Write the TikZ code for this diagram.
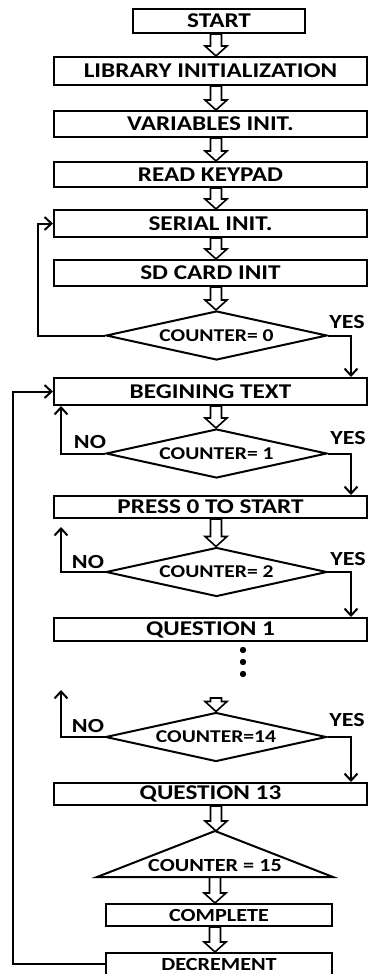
\documentclass[tikz,border=0pt]{standalone}
\usepackage{fontspec}
\setmainfont{Carlito}[FakeStretch=1.2]
\usetikzlibrary{shapes,arrows.meta,calc}
\tikzstyle{block} =
        [
                rectangle,
                draw,
                line width = 2pt,
                font = \bfseries\fontsize{21}{21}\selectfont,
                text centered,
                inner sep = 0pt,
                minimum height = 26pt
        ]
\tikzstyle{wide} =
        [
                block,
                minimum width = 313pt
        ]
\tikzstyle{short} =
        [
                block,
                minimum width = 226pt,
                minimum height = 22pt,
                font = \bfseries\fontsize{18.5}{18.5}\selectfont
        ]
\tikzstyle{decision} =
        [
                diamond,
                draw,
                line width = 2pt,
                inner sep = 0pt,
                aspect = 4.5,
                minimum width = 221pt,
                minimum height = 49pt,
                font = \bfseries\fontsize{18}{18}\selectfont
        ]
\tikzstyle{answer} =
        [
                inner sep = 0pt,
                font = \bfseries\fontsize{20}{20}\selectfont
        ]
\tikzstyle{line} =
        [
                draw,
                line width = 2pt,
                -{Straight Barb[length=7pt,width=13pt]}
        ]
\tikzstyle{fat} =
        [
                draw,
                line width = 1.6pt,
                to path = {let \p1 = (\tikztostart), \p2 = (\tikztotarget) in
                        (\x1-5.5pt,\y1) -- (\x1-5.5pt,\y2+10pt) -- (\x1-11pt,\y2+10pt)
                        -- (\x1,\y2) -- (\x1+11pt,\y2+10pt) -- (\x1+5.5pt,\y2+10pt)
                        -- (\x1+5.5pt,\y1) -- cycle}
        ]
\begin{document}
\begin{tikzpicture}[x=1pt,y=-1pt]
    \useasboundingbox (0,0) rectangle (369,974);
    \coordinate (axis) at (216,0);
    \coordinate (yesx) at (351,0);
    \coordinate (nox) at (61,0);
    \coordinate (loopx) at (38,0);
    \coordinate (outx) at (13,0);
    \node [block, minimum width = 172pt, minimum height = 24pt] (start) at (219,21) {START};
    \node [wide, minimum height = 28pt] (lib) at (210.5,71) {LIBRARY INITIALIZATION};
    \node [wide] (var) at (210.5,124) {VARIABLES INIT.};
    \node [wide, minimum height = 25pt] (keypad) at (210.5,174.5) {READ KEYPAD};
    \node [wide, minimum height = 27pt] (serial) at (210.5,223.5) {SERIAL INIT.};
    \node [wide] (sdcard) at (210.5,273) {SD CARD INIT};
    \node [decision] (cnt0) at (216.5,335.5) {COUNTER= 0};
    \node [wide, minimum height = 27pt] (begin) at (210.5,391.5) {BEGINING TEXT};
    \node [decision] (cnt1) at (216.5,453.5) {COUNTER= 1};
    \node [wide, minimum height = 22pt] (press) at (210.5,507) {PRESS 0 TO START};
    \node [decision] (cnt2) at (216.5,572) {COUNTER= 2};
    \node [wide, minimum height = 23pt] (q1) at (210.5,629.5) {QUESTION 1};
    \node [decision] (cnt14) at (216,737) {COUNTER=14};
    \node [wide, minimum height = 22pt] (q13) at (210.5,794) {QUESTION 13};
    % counter = 15 triangle
    \coordinate (apex) at (215,831);
    \coordinate (base) at (215,877);
    \draw [line width = 2pt] (apex) -- (333,877) -- (97,877) -- cycle;
    \node [answer, font = \bfseries\fontsize{18.5}{18.5}\selectfont] (cnt15) at (215,865) {COUNTER = 15};
    \node [short] (complete) at (219,915) {COMPLETE};
    \node [short] (decrement) at (219,964) {DECREMENT};
    \foreach \y in {650,662,674}
        \fill (243,\y) circle (3.2pt);
    \coordinate (gap) at (216,698);
    \node [answer] (yes0) at (347,322) {YES};
    \node [answer] (yes1) at (348,438) {YES};
    \node [answer] (no1) at (90,442) {NO};
    \node [answer] (yes2) at (348,559) {YES};
    \node [answer] (no2) at (88,562) {NO};
    \node [answer] (yes14) at (347,720) {YES};
    \node [answer] (no14) at (88,726) {NO};
    \path [fat] (start.south -| axis) to (lib.north -| axis);
    \path [fat] (lib.south -| axis) to (var.north -| axis);
    \path [fat] (var.south -| axis) to (keypad.north -| axis);
    \path [fat] (keypad.south -| axis) to (serial.north -| axis);
    \path [fat] (serial.south -| axis) to (sdcard.north -| axis);
    \path [fat] (sdcard.south -| axis) to (cnt0.north -| axis);
    \path [fat] (begin.south -| axis) to (cnt1.north -| axis);
    \path [fat] (press.south -| axis) to (cnt2.north -| axis);
    \path [fat] (gap) to (cnt14.north -| axis);
    \path [fat] (q13.south -| axis) to (apex);
    \path [fat] (base) to (complete.north -| base);
    \path [fat] (complete.south -| base) to (decrement.north -| base);
    \path [line] (cnt0.west) -| (loopx |- serial.west) -- (serial.west);
    \path [line] (cnt0.east) -| (yesx |- begin.north);
    \path [line] (cnt1.west) -| (nox |- begin.south);
    \path [line] (cnt1.east) -| (yesx |- press.north);
    \coordinate (up2) at (61,527);
    \path [line] (cnt2.west) -| (up2);
    \path [line] (cnt2.east) -| (yesx |- q1.north);
    \coordinate (up14) at (61,690);
    \path [line] (cnt14.west) -| (up14);
    \path [line] (cnt14.east) -| (yesx |- q13.north);
    \path [line] (decrement.west) -| (outx |- begin.west) -- (begin.west);
\end{tikzpicture}
\end{document}
